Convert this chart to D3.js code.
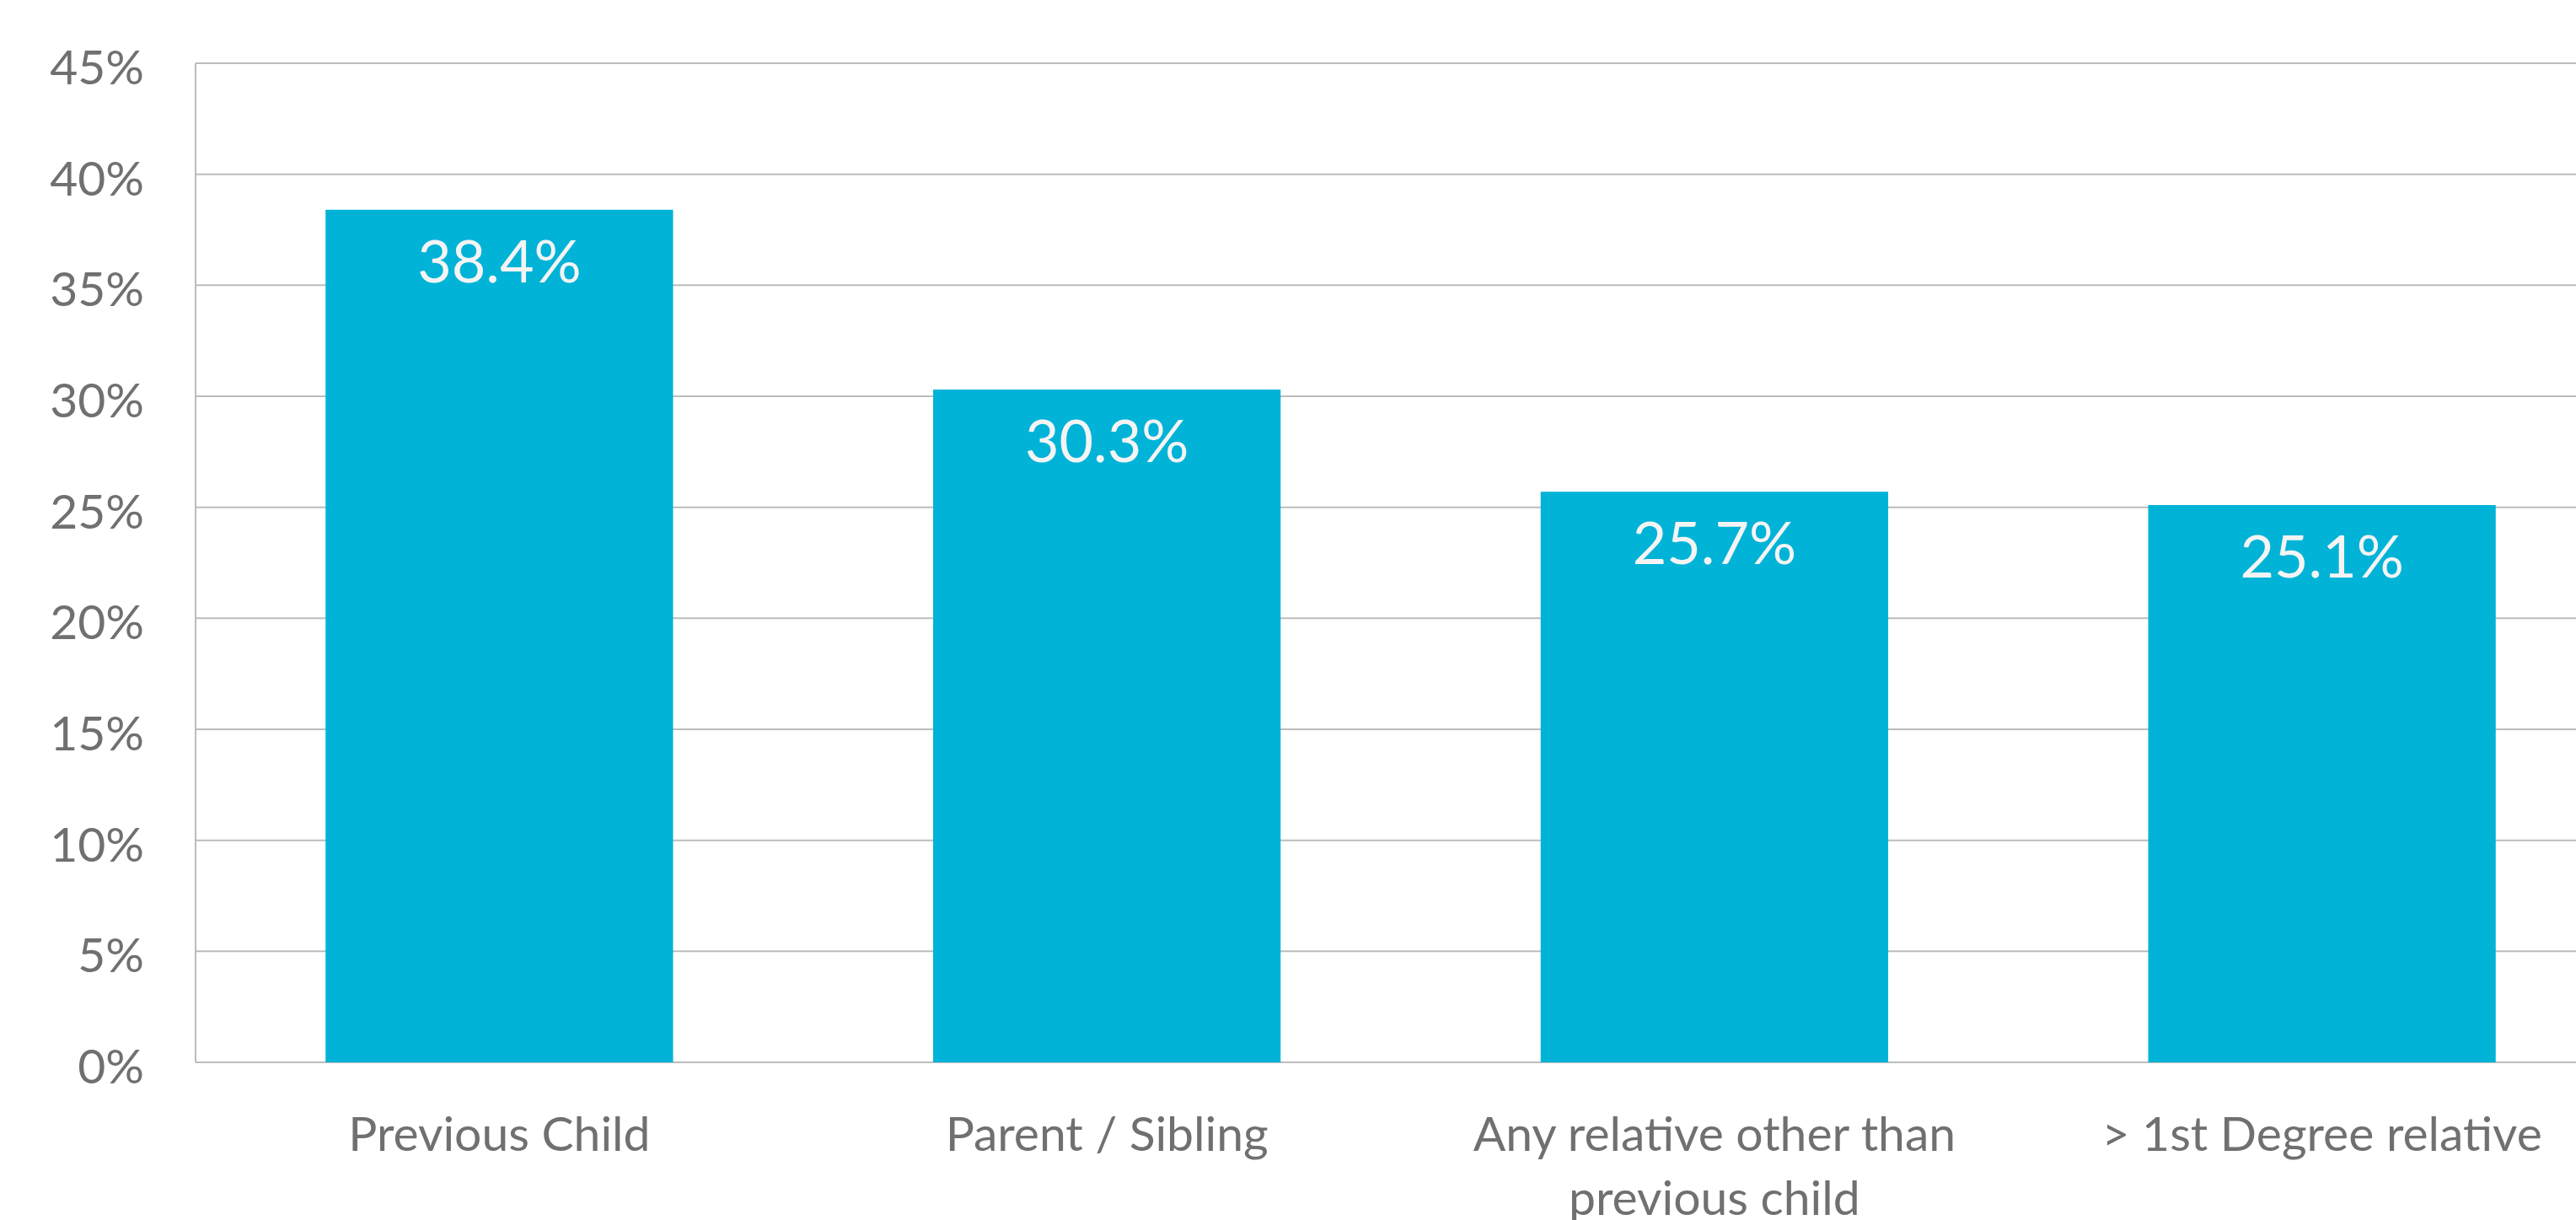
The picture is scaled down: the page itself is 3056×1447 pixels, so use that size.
<!DOCTYPE html>
<html>
<head>
<meta charset="utf-8">
<script src="https://cdn.jsdelivr.net/npm/d3@7"></script>
<style>
  html, body { margin: 0; padding: 0; background: #fff; overflow: hidden; }
  svg { display: block; font-family: Lato, "Open Sans", sans-serif; }
</style>
</head>
<body>
<div id="chart"></div>
<script>
// Chart data
const categories = ["Previous Child", "Parent / Sibling", "Any relative other than previous child", "> 1st Degree relative"];
const values = [38.4, 30.3, 25.7, 25.1];
const yTicks = [0, 5, 10, 15, 20, 25, 30, 35, 40, 45];

// Wrapped label lines, as in the original
const labelLines = {
    "Any relative other than previous child": ["Any relative other than", "previous child"]
};

const width = 3056;
const height = 1447;
const plot = { left: 232, top: 75, bottom: 1260, right: 3115 };

const svg = d3.select("#chart")
    .append("svg")
    .attr("width", width)
    .attr("height", height);

const x = d3.scaleBand()
    .domain(categories)
    .range([plot.left, plot.right])
    .paddingInner(0.428)
    .paddingOuter(0.214);

const y = d3.scaleLinear()
    .domain([0, 45])
    .range([plot.bottom, plot.top]);

const textColor = "#707070";
const gridColor = "#bcbcbc";

// Gridlines
svg.append("g")
    .selectAll("line")
    .data(yTicks)
    .enter().append("line")
    .attr("x1", plot.left)
    .attr("x2", plot.right)
    .attr("y1", d => y(d))
    .attr("y2", d => y(d))
    .attr("stroke", gridColor)
    .attr("stroke-width", 2);

// Left axis line
svg.append("line")
    .attr("x1", plot.left)
    .attr("x2", plot.left)
    .attr("y1", y(45))
    .attr("y2", y(0))
    .attr("stroke", gridColor)
    .attr("stroke-width", 2);

// Y tick labels
svg.append("g")
    .selectAll("text")
    .data(yTicks)
    .enter().append("text")
    .attr("x", 171)
    .attr("y", d => y(d) + 25)
    .attr("text-anchor", "end")
    .attr("fill", textColor)
    .style("font-size", "57px")
    .text(d => d + "%");

// Bars
svg.append("g")
    .selectAll("rect")
    .data(values)
    .enter().append("rect")
    .attr("x", (d, i) => x(categories[i]))
    .attr("width", x.bandwidth())
    .attr("y", d => y(d))
    .attr("height", d => y(0) - y(d))
    .attr("fill", "#00b3d7");

// Value labels inside the bars
svg.append("g")
    .selectAll("text")
    .data(values)
    .enter().append("text")
    .attr("x", (d, i) => x(categories[i]) + x.bandwidth() / 2)
    .attr("y", d => y(d) + 86)
    .attr("text-anchor", "middle")
    .attr("fill", "#f4f4f4")
    .style("font-size", "70px")
    .text(d => d.toFixed(1) + "%");

// Category labels
const catLabels = svg.append("g")
    .selectAll("text")
    .data(categories)
    .enter().append("text")
    .attr("x", d => x(d) + x.bandwidth() / 2)
    .attr("y", 1365)
    .attr("text-anchor", "middle")
    .attr("fill", textColor)
    .style("font-size", "57px");

catLabels.selectAll("tspan")
    .data(d => labelLines[d] || [d])
    .enter().append("tspan")
    .attr("x", function () { return d3.select(this.parentNode).attr("x"); })
    .attr("dy", (d, i) => i === 0 ? 0 : 76)
    .text(d => d);
</script>
</body>
</html>
